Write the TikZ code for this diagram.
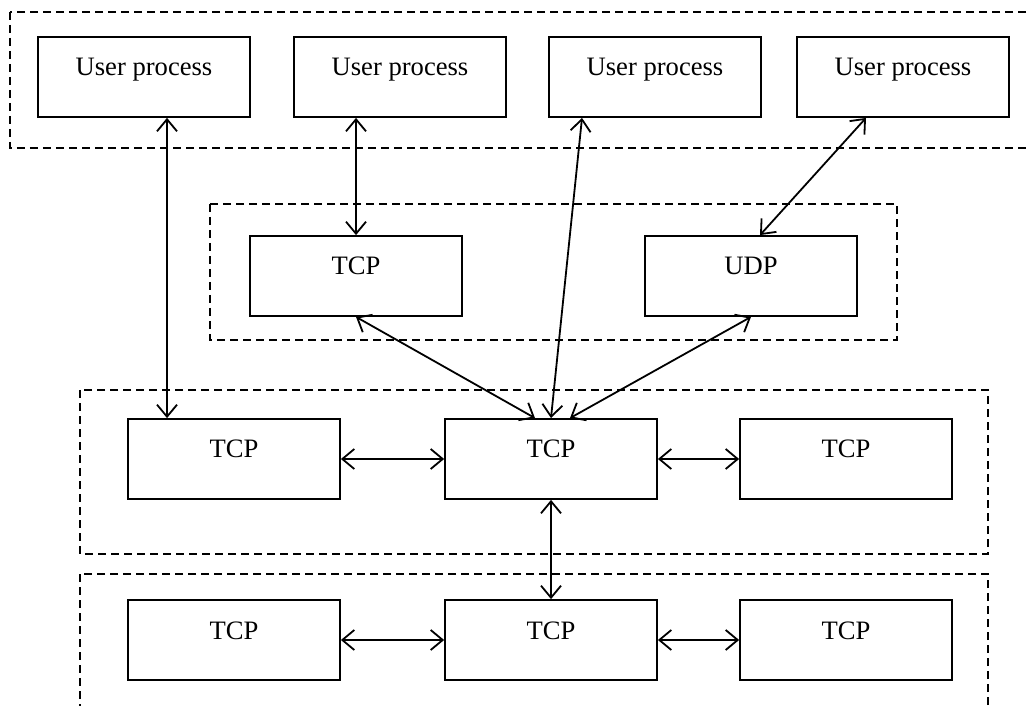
\documentclass[tikz,border=0pt]{standalone}
\usepackage{fontspec}
\setmainfont{Liberation Serif}
\usetikzlibrary{arrows.meta}
\begin{document}
\begin{tikzpicture}[x=0.5pt, y=-0.5pt]
 \tikzset{
  box/.style={draw, rectangle, line width=0.9pt, minimum width=106pt, inner sep=0pt,
              text height=19.5pt, text depth=20.5pt, font=\fontsize{13.3}{16}\selectfont},
  grp/.style={draw, dashed, line width=0.65pt, dash pattern=on 4pt off 2.5pt},
  con/.style={{Straight Barb[length=6pt,width=10pt]}-{Straight Barb[length=6pt,width=10pt]}, line width=0.9pt}
 }
 \def\ya{77}
 \def\yb{276}
 \def\yc{459}
 \def\yd{640}

 \useasboundingbox (0,0) rectangle (1030,706);
 \clip (0,0) rectangle (1030,706);

 % groups
 \draw [grp] (10,12) rectangle (1045,148);
 \draw [grp] (210,204) rectangle (897,340);
 \draw [grp] (80,390) rectangle (988,554);
 \draw [grp] (80,574) rectangle (988,725);

 % user processes
 \foreach \x [count=\i] in {144,400,655,903}
  { \node [box] (up\i) at (\x,\ya) {User process}; }
 % transport
 \node [box] (tcp) at (356,\yb) {TCP};
 \node [box] (udp) at (751,\yb) {UDP};
 % lower rows
 \foreach \x [count=\i] in {234,551,846} {
  \node [box] (a\i) at (\x,\yc) {TCP};
  \node [box] (b\i) at (\x,\yd) {TCP};
 }

 \draw [con] ([xshift=11.5pt]up1.south) -- ([xshift=11.5pt]up1.south |- a1.north);
 \draw [con] (tcp.north |- up2.south) -- (tcp.north);
 \draw [con] ([xshift=-36.5pt]up3.south) -- (a2.north);
 \draw [con] ([xshift=-18.5pt]up4.south) -- ([xshift=4.5pt]udp.north);
 \draw [con] (tcp.south) -- ([xshift=-8pt]a2.north);
 \draw [con] (udp.south) -- ([xshift=9.5pt]a2.north);
 \foreach \src/\dst in {a1/a2, a2/a3, b1/b2, b2/b3}
  { \draw [con] (\src.east) -- (\dst.west); }
 \draw [con] (a2.south) -- (b2.north);
\end{tikzpicture}
\end{document}
